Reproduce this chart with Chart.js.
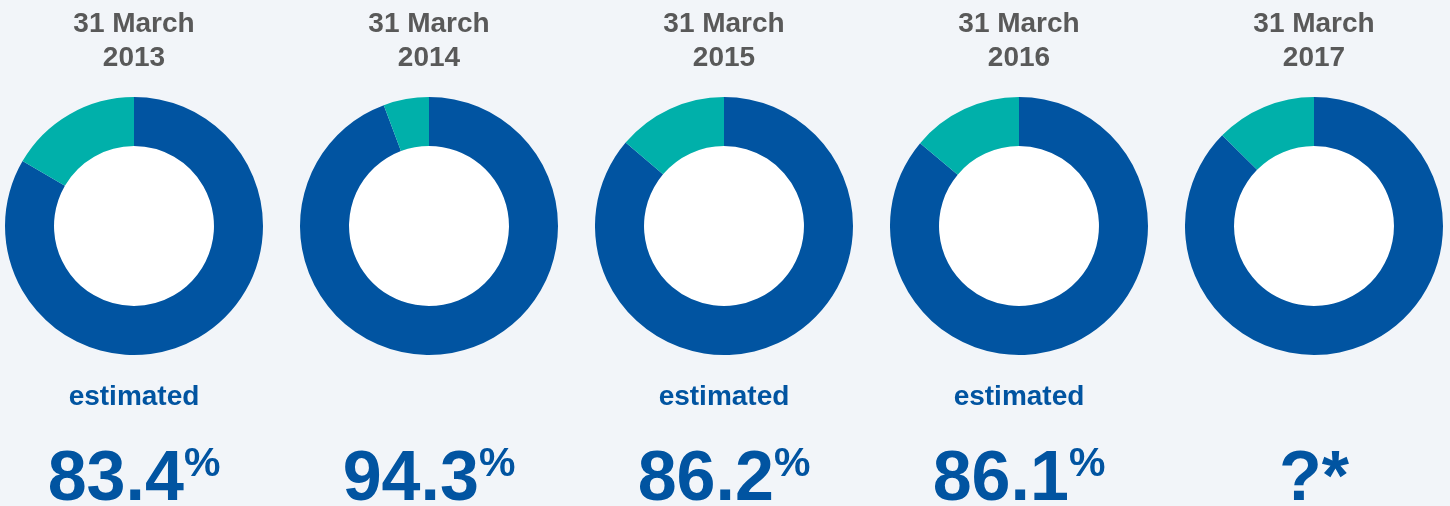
<!DOCTYPE html>
<html>
<head>
<meta charset="utf-8">
<script src="https://cdn.jsdelivr.net/npm/chart.js@4"></script>
<style>
  body { margin: 0; background: #f2f5f9; }
  #wrap { position: relative; width: 1450px; height: 506px; overflow: hidden; }
  canvas { position: absolute; top: 0; }
</style>
</head>
<body>
<div id="wrap"></div>
<script>
const years = ['2013', '2014', '2015', '2016', '2017'];
const covered = [83.4, 94.3, 86.2, 86.1, 87.4];
const valueLabels = ['83.4', '94.3', '86.2', '86.1', '?*'];
const isEstimated = [true, false, true, true, false];
const showPercent = [true, true, true, true, false];

const centers = [134, 429, 724, 1019, 1314];
const BLUE = '#0154a1';
const TEAL = '#00b0aa';
const FONT = 'Arial, "Liberation Sans", sans-serif';

// white hole in the middle of each ring
const holePlugin = {
    id: 'hole',
    beforeDatasetsDraw(chart) {
        const arc = chart.getDatasetMeta(0).data[0];
        const ctx = chart.ctx;
        ctx.save();
        ctx.fillStyle = '#ffffff';
        ctx.beginPath();
        ctx.arc(arc.x, arc.y, arc.innerRadius, 0, Math.PI * 2);
        ctx.fill();
        ctx.restore();
    }
};

// "estimated" line and the big figure under each ring
const captionPlugin = {
    id: 'caption',
    afterDraw(chart, args, opts) {
        const ctx = chart.ctx;
        const cx = chart.width / 2;
        ctx.save();
        ctx.fillStyle = BLUE;
        if (opts.estimated) {
            ctx.font = 'bold 28px ' + FONT;
            ctx.textAlign = 'center';
            ctx.textBaseline = 'middle';
            ctx.fillText('estimated', cx, 397);
        }
        ctx.textAlign = 'left';
        ctx.textBaseline = 'alphabetic';
        ctx.font = 'bold 70px ' + FONT;
        const w1 = ctx.measureText(opts.value).width;
        let w2 = 0;
        if (opts.percent) {
            ctx.font = 'bold 41px ' + FONT;
            w2 = ctx.measureText('%').width;
        }
        const x0 = cx - (w1 + w2) / 2;
        ctx.font = 'bold 70px ' + FONT;
        ctx.fillText(opts.value, x0, 500);
        if (opts.percent) {
            ctx.font = 'bold 41px ' + FONT;
            ctx.fillText('%', x0 + w1, 476);
        }
        ctx.restore();
    }
};

const wrap = document.getElementById('wrap');

years.forEach((year, i) => {
    const canvas = document.createElement('canvas');
    canvas.width = 258;
    canvas.height = 506;
    canvas.style.left = (centers[i] - 129) + 'px';
    wrap.appendChild(canvas);

    new Chart(canvas.getContext('2d'), {
        type: 'doughnut',
        data: {
            labels: ['Covered', 'Not covered'],
            datasets: [{
                data: [covered[i], 100 - covered[i]],
                backgroundColor: [BLUE, TEAL],
                borderWidth: 0
            }]
        },
        options: {
            responsive: false,
            animation: false,
            cutout: '62%',
            layout: { padding: { bottom: 151 } },
            plugins: {
                legend: { display: false },
                tooltip: { enabled: false },
                title: {
                    display: true,
                    text: ['31 March', year],
                    color: '#595959',
                    font: { family: FONT, size: 28, weight: 'bold', lineHeight: 34 / 28 },
                    padding: { top: 7, bottom: 22 }
                },
                caption: {
                    value: valueLabels[i],
                    estimated: isEstimated[i],
                    percent: showPercent[i]
                }
            }
        },
        plugins: [holePlugin, captionPlugin]
    });
});
</script>
</body>
</html>
